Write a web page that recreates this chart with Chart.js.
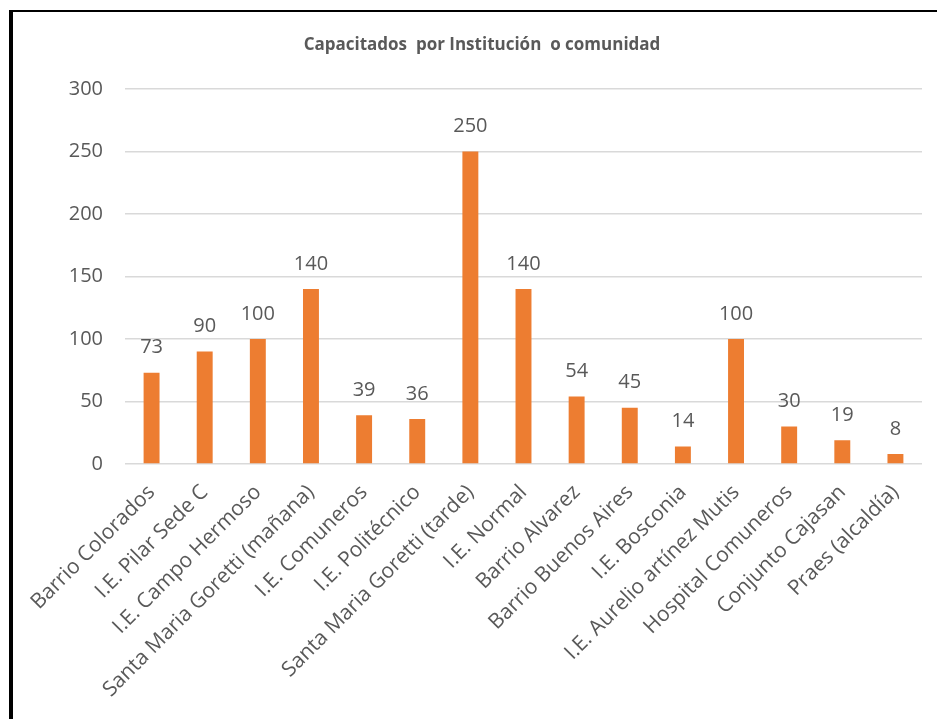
<!DOCTYPE html>
<html>
<head>
<meta charset="utf-8">
<script src="https://cdn.jsdelivr.net/npm/chart.js@4/dist/chart.umd.min.js"></script>
<style>
  html,body{margin:0;padding:0;background:#fff;}
  #wrap{position:relative;width:937px;height:719px;overflow:hidden;}
  #c{position:absolute;left:0;top:0;}
  #frame{position:absolute;left:9px;top:10px;width:940px;height:720px;border-left:4px solid #000;border-top:2px solid #000;pointer-events:none;}
</style>
</head>
<body>
<div id="wrap">
<canvas id="c" width="937" height="719"></canvas>
<div id="frame"></div>
</div>
<script>
const titleText = 'Capacitados  por Institución  o comunidad';
const categories = [
  'Barrio Colorados',
  'I.E. Pilar Sede C',
  'I.E. Campo Hermoso',
  'Santa Maria Goretti (mañana)',
  'I.E. Comuneros',
  'I.E. Politécnico',
  'Santa Maria Goretti (tarde)',
  'I.E. Normal',
  'Barrio Alvarez',
  'Barrio Buenos Aires',
  'I.E. Bosconia',
  'I.E. Aurelio artínez Mutis',
  'Hospital Comuneros',
  'Conjunto Cajasan',
  'Praes (alcaldía)'
];
const capacitados = [73, 90, 100, 140, 39, 36, 250, 140, 54, 45, 14, 100, 30, 19, 8];
const yTicks = [0, 50, 100, 150, 200, 250, 300];

const textColor = '#595959';
const fontFam = '"Open Sans", "Noto Sans", sans-serif';

const valueLabels = {
  id: 'valueLabels',
  afterDatasetsDraw(chart) {
    const ctx = chart.ctx;
    const meta = chart.getDatasetMeta(0);
    ctx.save();
    ctx.font = '20px ' + fontFam;
    ctx.fillStyle = textColor;
    ctx.textAlign = 'center';
    ctx.textBaseline = 'bottom';
    meta.data.forEach((bar, i) => {
      ctx.fillText(String(chart.data.datasets[0].data[i]), bar.x, bar.y - 15);
    });
    ctx.restore();
  }
};

new Chart(document.getElementById('c'), {
  type: 'bar',
  data: {
    labels: categories,
    datasets: [{
      data: capacitados,
      backgroundColor: '#ED7D31',
      borderWidth: 0,
      barPercentage: 0.3,
      categoryPercentage: 1.0
    }]
  },
  options: {
    responsive: false,
    animation: false,
    devicePixelRatio: 1,
    layout: { padding: { left: 42, right: 15, top: 0, bottom: 0 } },
    plugins: {
      legend: { display: false },
      tooltip: { enabled: false },
      title: {
        display: true,
        text: titleText,
        color: textColor,
        font: { family: fontFam, size: 17, weight: 'bold' },
        padding: { top: 35, bottom: 33.6 }
      }
    },
    scales: {
      x: {
        grid: { display: false, drawTicks: false },
        border: { display: false },
        ticks: {
          color: textColor,
          font: { family: fontFam, size: 21 },
          maxRotation: 45,
          minRotation: 45,
          autoSkip: false,
          padding: 16
        },
        afterFit(scale) { scale.height = 255; }
      },
      y: {
        min: 0,
        max: 300,
        afterBuildTicks(scale) { scale.ticks = yTicks.map(v => ({ value: v })); },
        grid: { color: '#D9D9D9', lineWidth: 1.5, drawTicks: false },
        border: { display: false },
        ticks: {
          color: textColor,
          font: { family: fontFam, size: 20 },
          padding: 22
        },
        afterFit(scale) { scale.width = 83; }
      }
    }
  },
  plugins: [valueLabels]
});
</script>
</body>
</html>
